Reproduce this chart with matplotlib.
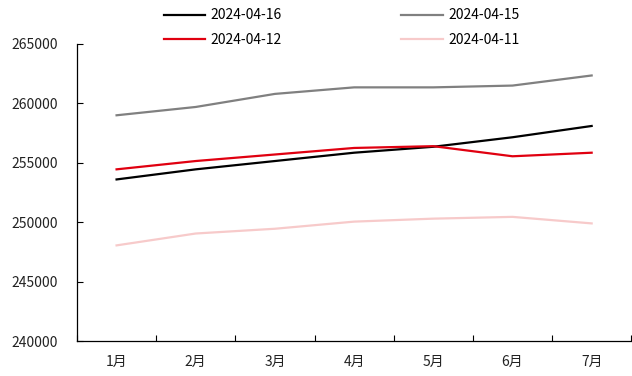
import matplotlib
matplotlib.use("Agg")
import matplotlib.pyplot as plt
from matplotlib.ticker import FixedLocator, FuncFormatter

plt.rcParams['font.family'] = ['Noto Sans CJK SC', 'DejaVu Sans']

months = ["1月", "2月", "3月", "4月", "5月", "6月", "7月"]
s_0416 = [253600, 254450, 255150, 255850, 256350, 257150, 258100]
s_0415 = [259000, 259700, 260800, 261350, 261350, 261500, 262350]
s_0412 = [254450, 255150, 255700, 256250, 256400, 255550, 255850]
s_0411 = [248050, 249050, 249450, 250050, 250300, 250450, 249900]
yticks = [240000, 245000, 250000, 255000, 260000, 265000]

fig = plt.figure(figsize=(6.32, 3.76), dpi=100)
ax = fig.add_axes([0.1218, 0.093, 0.877, 0.790])

x = list(range(len(months)))
l16, = ax.plot(x, s_0416, color="#000000", lw=1.6, label="2024-04-16")
l15, = ax.plot(x, s_0415, color="#808080", lw=1.6, label="2024-04-15")
l12, = ax.plot(x, s_0412, color="#E00010", lw=1.6, label="2024-04-12")
l11, = ax.plot(x, s_0411, color="#F7CACA", lw=1.6, label="2024-04-11")

ax.set_xlim(-0.5, len(months) - 0.5)
ax.set_ylim(yticks[0], yticks[-1])
ax.set_yticks(yticks)
ax.yaxis.set_major_formatter(FuncFormatter(lambda v, p: f"{int(v)}"))

ax.set_xticks(x)
ax.set_xticklabels(months)
ax.xaxis.set_minor_locator(FixedLocator([i - 0.5 for i in range(len(months) + 1)]))
ax.tick_params(axis="x", which="major", length=0, pad=10, labelsize=10)
ax.tick_params(axis="x", which="minor", direction="in", length=4, width=0.8)
ax.tick_params(axis="y", which="major", direction="in", length=4, width=0.8, pad=14,
               labelsize=10)
ax.tick_params(axis="both", which="both", colors="#000000", labelcolor="#222222")

for side in ("top", "right"):
    ax.spines[side].set_visible(False)
for side in ("left", "bottom"):
    ax.spines[side].set_linewidth(0.9)

fig.legend(handles=[l16, l12, l15, l11], ncol=2, loc="upper left",
           bbox_to_anchor=(0.239, 1.011), frameon=False, fontsize=10,
           handlelength=3.0, handletextpad=0.4, columnspacing=8.6,
           labelspacing=0.75)

fig.savefig("out.png", dpi=100)
